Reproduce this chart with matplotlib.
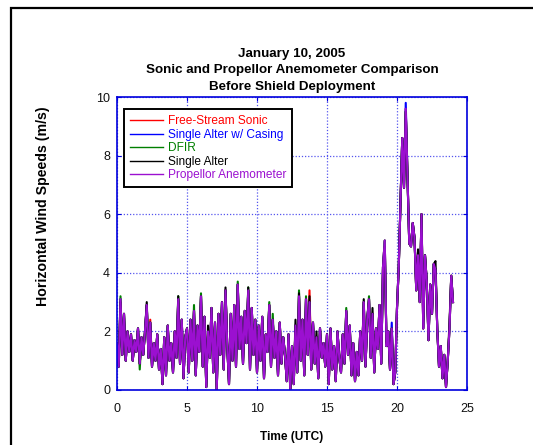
import matplotlib
matplotlib.use("Agg")
import matplotlib.pyplot as plt
import matplotlib.patches as mpatches
import numpy as np

plt.rcParams['font.family'] = ['Liberation Sans', 'DejaVu Sans']

# time axis: hours UTC, 8 samples per hour
time_start = 0.0
time_step = 0.125

purple = [
    1.6, 0.8, 3.1, 1.2, 2.6, 1.0, 2.0, 1.3,
    1.9, 1.0, 1.7, 1.3, 2.1, 0.9, 1.8, 1.2,
    2.0, 2.9, 1.1, 2.3, 0.8, 1.6, 1.0, 1.9,
    0.7, 1.4, 0.2, 1.8, 0.5, 2.2, 1.0, 1.6,
    0.6, 2.0, 1.1, 3.1, 0.9, 2.4, 0.4, 1.8,
    2.1, 0.6, 2.4, 1.0, 2.7, 0.5, 2.2, 1.3,
    3.2, 0.8, 2.5, 0.1, 2.0, 1.1, 2.8, 0.6,
    2.3, 0.0, 2.6, 1.2, 3.0, 0.7, 3.4, 1.5,
    0.2, 2.6, 1.0, 2.9, 0.8, 3.6, 1.4, 2.5,
    0.9, 2.7, 1.6, 3.4, 0.7, 2.8, 1.2, 2.4,
    0.6, 2.2, 1.0, 2.5, 0.4, 1.9, 1.3, 2.9,
    0.8, 2.4, 1.1, 2.0, 0.5, 2.3, 0.9, 1.8,
    1.2, 0.3, 1.9, 0.0, 1.5, 0.2, 2.2, 0.6,
    3.2, 1.0, 2.4, 0.5, 3.1, 1.2, 3.0, 0.7,
    2.3, 0.9, 1.8, 0.4, 2.1, 1.1, 1.6, 0.8,
    1.9, 0.2, 2.1, 0.7, 1.5, 0.3, 2.0, 1.1,
    0.6, 1.9, 0.9, 2.7, 1.2, 2.2, 0.5, 1.6,
    0.3, 1.3, 0.5, 2.0, 1.0, 3.0, 0.8, 2.4,
    3.1, 1.1, 2.6, 0.6, 2.1, 1.4, 2.9, 0.9,
    4.2, 5.1, 1.5, 2.0, 0.7, 2.1, 0.2, 0.6,
    2.8, 4.2, 6.4, 8.6, 6.9, 9.6, 7.3, 5.0,
    4.9, 5.7, 5.2, 3.4, 4.6, 3.0, 6.0, 2.1,
    4.6, 3.7, 1.7, 3.6, 2.6, 4.3, 4.1, 2.1,
    0.8, 1.5, 0.4, 1.2, 0.1, 1.0, 2.1, 3.9,
    3.0,
]

black = [
    1.6, 0.8, 3.0, 1.2, 2.6, 1.0, 2.0, 1.3,
    1.9, 1.0, 1.7, 1.3, 2.1, 0.9, 1.8, 1.2,
    2.0, 3.0, 1.1, 2.3, 0.8, 1.6, 1.0, 1.9,
    0.7, 1.4, 0.2, 1.8, 0.5, 2.2, 1.0, 1.6,
    0.6, 2.0, 1.1, 3.2, 0.9, 2.4, 0.4, 1.8,
    2.1, 0.6, 2.4, 1.0, 2.7, 0.5, 2.2, 1.3,
    3.2, 0.8, 2.5, 0.1, 2.2, 1.1, 2.8, 0.6,
    2.3, 0.0, 2.6, 1.2, 3.0, 0.7, 3.5, 1.5,
    0.2, 2.6, 1.0, 2.9, 0.8, 3.6, 1.4, 2.5,
    0.9, 2.7, 1.6, 3.5, 0.7, 2.8, 1.2, 2.4,
    0.6, 2.2, 1.0, 2.5, 0.4, 1.9, 1.3, 2.9,
    0.8, 2.4, 1.1, 2.0, 0.5, 2.3, 0.9, 1.8,
    1.2, 0.3, 1.9, 0.0, 1.5, 0.2, 2.4, 0.6,
    3.3, 1.0, 2.4, 0.5, 3.1, 1.2, 3.2, 0.7,
    2.3, 0.9, 2.0, 0.4, 2.1, 1.1, 1.6, 0.8,
    1.9, 0.2, 2.1, 0.7, 1.5, 0.3, 2.0, 1.1,
    0.6, 1.9, 0.9, 2.7, 1.2, 2.2, 0.5, 1.6,
    0.3, 1.3, 0.5, 2.0, 1.0, 3.1, 0.8, 2.4,
    3.1, 1.1, 2.8, 0.6, 2.1, 1.4, 2.9, 0.9,
    4.2, 4.9, 1.5, 2.0, 0.7, 2.1, 0.2, 0.6,
    2.8, 4.2, 6.4, 8.6, 6.9, 9.5, 7.3, 5.0,
    4.9, 5.7, 5.2, 3.4, 4.8, 3.0, 6.0, 2.1,
    4.6, 3.7, 1.7, 3.6, 2.6, 4.3, 4.4, 2.1,
    0.8, 1.5, 0.4, 1.2, 0.1, 1.0, 2.3, 3.9,
    3.0,
]

green = [
    1.6, 0.8, 3.2, 1.2, 2.6, 1.0, 2.0, 1.3,
    1.9, 1.0, 1.7, 1.3, 2.1, 0.7, 1.8, 1.2,
    2.0, 2.9, 1.1, 2.3, 0.8, 1.6, 1.0, 1.9,
    0.7, 1.4, 0.2, 1.8, 0.5, 2.2, 1.0, 1.6,
    0.6, 2.0, 1.1, 3.2, 0.9, 2.4, 0.4, 1.8,
    2.1, 0.6, 2.4, 1.0, 2.9, 0.5, 2.2, 1.3,
    3.3, 0.8, 2.5, 0.1, 2.0, 1.1, 2.8, 0.6,
    2.3, 0.0, 2.6, 1.2, 3.0, 0.7, 3.4, 1.5,
    0.2, 2.6, 1.0, 2.9, 0.8, 3.7, 1.4, 2.5,
    0.9, 2.7, 1.6, 3.5, 0.7, 2.8, 1.2, 2.4,
    0.6, 2.2, 1.0, 2.5, 0.4, 1.9, 1.3, 3.0,
    0.8, 2.6, 1.1, 2.0, 0.5, 2.3, 0.9, 1.8,
    1.2, 0.3, 1.9, 0.0, 1.5, 0.2, 2.2, 0.6,
    3.4, 1.0, 2.4, 0.5, 3.2, 1.2, 3.0, 0.7,
    2.3, 0.9, 1.8, 0.4, 2.1, 1.1, 1.6, 0.8,
    1.9, 0.2, 2.1, 0.7, 1.5, 0.3, 2.0, 1.1,
    0.6, 1.9, 0.9, 2.8, 1.2, 2.2, 0.5, 1.6,
    0.3, 1.3, 0.5, 2.0, 1.0, 3.0, 0.8, 2.4,
    3.2, 1.1, 2.6, 0.6, 2.1, 1.4, 2.9, 0.9,
    4.2, 5.1, 1.5, 2.0, 0.7, 2.1, 0.2, 0.6,
    2.8, 4.2, 6.4, 8.6, 6.9, 9.5, 7.3, 5.0,
    4.9, 5.7, 5.2, 3.4, 4.6, 3.0, 6.0, 2.4,
    4.6, 3.7, 1.7, 3.6, 2.6, 4.3, 4.1, 2.1,
    0.8, 1.5, 0.4, 1.2, 0.1, 1.0, 2.1, 3.9,
    3.0,
]

red = [
    1.6, 0.8, 3.1, 1.2, 2.6, 1.0, 2.0, 1.3,
    1.9, 1.0, 1.7, 1.3, 2.1, 0.9, 1.8, 1.2,
    2.0, 2.9, 1.1, 2.4, 0.8, 1.6, 1.0, 1.9,
    0.7, 1.4, 0.2, 1.8, 0.5, 2.2, 1.0, 1.6,
    0.6, 2.0, 1.1, 3.1, 0.9, 2.4, 0.4, 1.8,
    2.1, 0.6, 2.4, 1.0, 2.7, 0.5, 2.2, 1.3,
    3.2, 0.8, 2.5, 0.1, 2.0, 1.1, 2.8, 0.6,
    2.3, 0.0, 2.6, 1.2, 3.0, 0.7, 3.4, 1.5,
    0.2, 2.6, 1.0, 2.9, 0.8, 3.6, 1.4, 2.5,
    0.9, 2.7, 1.6, 3.4, 0.7, 2.8, 1.2, 2.4,
    0.6, 2.2, 1.0, 2.5, 0.4, 1.9, 1.3, 2.9,
    0.8, 2.4, 1.1, 2.0, 0.5, 2.3, 0.9, 1.8,
    1.2, 0.3, 1.9, 0.0, 1.5, 0.2, 2.2, 0.6,
    3.2, 1.0, 2.4, 0.5, 3.1, 1.2, 3.4, 0.7,
    2.3, 0.9, 1.8, 0.4, 2.1, 1.1, 1.6, 0.8,
    1.9, 0.2, 2.1, 0.7, 1.5, 0.3, 2.0, 1.1,
    0.6, 1.9, 0.9, 2.7, 1.2, 2.2, 0.5, 1.6,
    0.3, 1.3, 0.5, 2.0, 1.0, 3.0, 0.8, 2.4,
    3.1, 1.1, 2.6, 0.6, 2.1, 1.4, 2.9, 0.9,
    4.2, 5.1, 1.5, 2.0, 0.7, 2.1, 0.2, 0.6,
    2.8, 4.2, 6.4, 8.6, 6.9, 9.6, 7.3, 5.0,
    4.9, 5.7, 5.2, 3.4, 4.6, 3.0, 6.0, 2.1,
    4.6, 3.7, 1.7, 3.6, 2.6, 4.3, 4.1, 2.1,
    0.8, 1.5, 0.4, 1.2, 0.1, 1.0, 2.1, 3.9,
    3.0,
]

blue = [
    1.6, 0.8, 3.1, 1.2, 2.6, 1.0, 2.0, 1.3,
    1.9, 1.0, 1.7, 1.3, 2.1, 0.9, 1.8, 1.2,
    2.0, 2.9, 1.1, 2.3, 0.8, 1.6, 1.0, 1.9,
    0.7, 1.4, 0.2, 1.8, 0.5, 2.2, 1.0, 1.6,
    0.6, 2.0, 1.1, 3.1, 0.9, 2.4, 0.4, 1.8,
    2.1, 0.6, 2.4, 1.0, 2.7, 0.5, 2.2, 1.3,
    3.2, 0.8, 2.5, 0.1, 2.0, 1.1, 2.8, 0.6,
    2.3, 0.0, 2.6, 1.2, 3.0, 0.7, 3.4, 1.5,
    0.2, 2.6, 1.0, 2.9, 0.8, 3.6, 1.4, 2.5,
    0.9, 2.7, 1.6, 3.4, 0.7, 2.8, 1.2, 2.4,
    0.6, 2.2, 1.0, 2.5, 0.4, 1.9, 1.3, 2.9,
    0.8, 2.4, 1.1, 2.0, 0.5, 2.3, 0.9, 1.8,
    1.2, 0.3, 1.9, 0.0, 1.5, 0.2, 2.2, 0.6,
    3.2, 1.0, 2.4, 0.5, 3.1, 1.2, 3.0, 0.7,
    2.3, 0.9, 1.8, 0.4, 2.1, 1.1, 1.6, 0.8,
    1.9, 0.2, 2.1, 0.7, 1.5, 0.3, 2.0, 1.1,
    0.6, 1.9, 0.9, 2.7, 1.2, 2.2, 0.5, 1.6,
    0.3, 1.3, 0.5, 2.0, 1.0, 3.0, 0.8, 2.4,
    3.1, 1.1, 2.6, 0.6, 2.1, 1.4, 2.9, 0.9,
    4.2, 5.1, 1.5, 2.0, 0.7, 2.3, 0.2, 0.6,
    2.8, 4.2, 6.4, 8.6, 6.9, 9.8, 7.3, 5.0,
    4.9, 5.7, 5.2, 3.4, 4.6, 3.0, 6.0, 2.1,
    4.6, 3.7, 1.7, 3.6, 2.6, 4.3, 4.1, 2.1,
    0.8, 1.5, 0.4, 1.2, 0.1, 1.0, 2.1, 3.9,
    3.0,
]

series_labels = ["Free-Stream Sonic", "Single Alter w/ Casing", "DFIR",
                 "Single Alter", "Propellor Anemometer"]
series_colors = ["#FF0000", "#0000FF", "#007F00", "#000000", "#9B10D0"]
series_values = [red, blue, green, black, purple]

x_ticks = [0, 5, 10, 15, 20, 25]
y_ticks = [0, 2, 4, 6, 8, 10]

title_lines = ["January 10, 2005",
               "Sonic and Propellor Anemometer Comparison",
               "Before Shield Deployment"]
x_label = "Time (UTC)"
y_label = "Horizontal Wind Speeds (m/s)"

W, H = 533, 445
fig = plt.figure(figsize=(W / 100, H / 100), dpi=100)
fig.patch.set_facecolor("white")

# outer frame (cut off at right/bottom)
fig.patches.append(mpatches.Rectangle((10.5 / W, -0.1), 2.0, 1.1 - 8.5 / H,
                                      transform=fig.transFigure, fill=False,
                                      edgecolor="black", linewidth=1.6, zorder=0))

ax = fig.add_axes([117 / W, (H - 390) / H, 350 / W, 293 / H])

for vals, col, lab in zip(series_values, series_colors, series_labels):
    t = time_start + time_step * np.arange(len(vals))
    ax.plot(t, vals, color=col, linewidth=1.5, label=lab)

ax.set_xlim(0, 25)
ax.set_ylim(0, 10)
ax.set_xticks(x_ticks)
ax.set_yticks(y_ticks)
ax.grid(True, color="#5555EE", linestyle=(0, (1, 1.5)), linewidth=0.9)
for s in ax.spines.values():
    s.set_color("#0000DD")
    s.set_linewidth(1.2)
ax.tick_params(direction="in", color="#0000DD", length=3, top=True, right=True,
               labelsize=9, labelcolor="#111111")
ax.tick_params(axis="x", pad=9)
ax.tick_params(axis="y", pad=5)

# title lines (centres measured in pixels from top)
for line, ypix in zip(title_lines, [53.6, 70.4, 87.0]):
    fig.text(292 / W, 1 - ypix / H, line, fontsize=9.6, fontweight="bold",
             ha="center", va="center")
ax.set_xlabel(x_label, fontsize=8.6, fontweight="bold", labelpad=12)
fig.text(43 / W, 1 - 206.5 / H, y_label, fontsize=10.2, fontweight="bold",
         rotation=90, ha="center", va="center")

leg = ax.legend(loc="upper left", bbox_to_anchor=(0.021, 0.958), fontsize=8.6,
                frameon=True, fancybox=False, handlelength=2.7, handletextpad=0.45,
                labelspacing=0.13, borderpad=0.5, borderaxespad=0.0)
leg.get_frame().set_edgecolor("black")
leg.get_frame().set_linewidth(1.4)
leg.get_frame().set_alpha(1)
for txt, col in zip(leg.get_texts(), series_colors):
    txt.set_color(col)
for ln in leg.get_lines():
    ln.set_linewidth(1.0)

fig.savefig("out.png", dpi=100)
